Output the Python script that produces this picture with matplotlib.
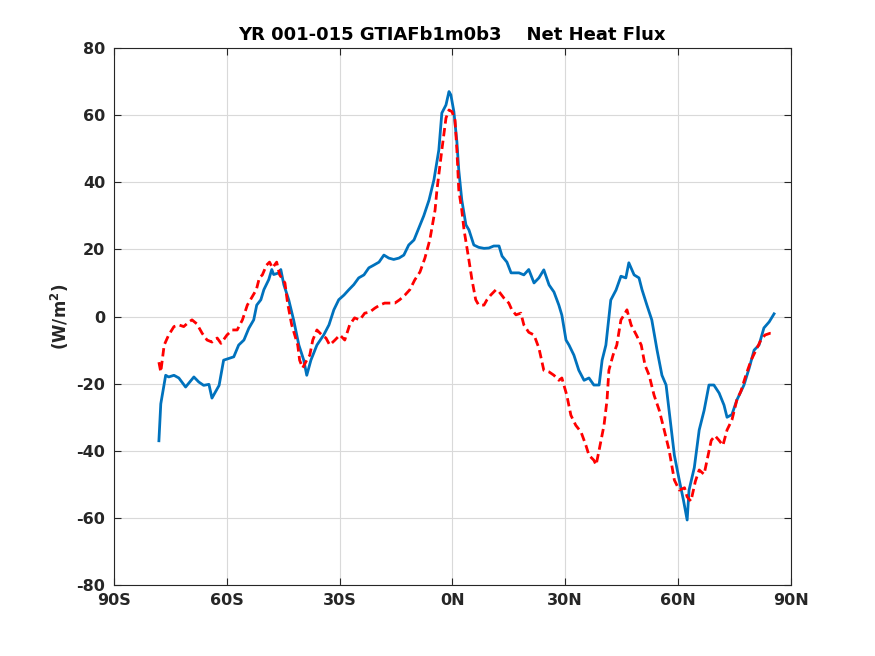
import matplotlib
matplotlib.use('Agg')
import matplotlib.pyplot as plt

# zonal mean net heat flux (W/m^2)
lat_model = [-78.0, -77.5, -76.2, -75.4, -74.0, -72.7, -70.9, -68.7, -67.4, -66.1, -64.7, -63.9,
             -62.0, -60.8, -58.1, -56.8, -55.4, -54.1, -52.8, -52.0, -50.9, -50.1, -48.8, -48.0,
             -47.5, -46.1, -45.6, -44.8, -43.5, -42.2, -40.8, -39.5, -38.7, -37.6, -36.0, -34.2,
             -32.8, -31.5, -30.2, -28.8, -27.5, -26.2, -24.9, -23.5, -22.2, -20.9, -19.5, -18.2,
             -16.9, -15.6, -14.2, -12.9, -11.6, -10.2, -8.9, -7.6, -6.2, -4.9, -3.6, -2.8, -1.7,
             -0.9, -0.4, 0.4, 1.2, 1.7, 2.5, 3.6, 4.4, 5.7, 7.0, 8.4, 9.7, 11.0, 12.4, 13.2, 14.5,
             15.6, 17.7, 19.0, 20.3, 21.7, 23.0, 24.3, 25.7, 27.0, 28.3, 29.1, 30.2, 31.0, 32.3,
             33.6, 35.0, 36.3, 37.6, 39.0, 39.8, 40.8, 42.1, 43.5, 44.8, 46.1, 46.9, 48.3, 49.6,
             50.4, 51.7, 53.0, 54.4, 55.7, 56.8, 57.6, 59.0, 60.3, 61.4, 62.4, 62.9, 64.3, 65.6,
             66.9, 68.2, 69.5, 70.9, 72.2, 73.0, 74.3, 75.6, 77.5, 78.9, 80.2, 81.5, 82.8, 84.2, 85.5]
flux_model = [-37, -26, -17.5, -18, -17.5, -18.3, -21, -18, -19.5, -20.5, -20.2, -24.3,
              -20.5, -13, -12, -8.5, -7, -3.5, -1, 3.4, 5, 8, 11, 14,
              12.5, 13, 14, 9.5, 5, -1, -8.5, -13, -17.5, -13, -8.5, -5.5,
              -2.5, 2, 5, 6.4, 8, 9.5, 11.5, 12.4, 14.5, 15.3, 16.2, 18.3,
              17.4, 17, 17.4, 18.3, 21.3, 22.8, 26.4, 30, 34.7, 40.7, 49.6, 60.6, 63,
              67, 66, 61, 52, 43.6, 34.7, 27.3, 25.8, 21.3, 20.6, 20.3, 20.4, 21, 21, 18, 16.2,
              13, 13, 12.4, 14, 10, 11.5, 13.9, 9.4, 7.3, 3.4, 0.4, -7, -8.5, -11.5,
              -16, -19, -18.3, -20.4, -20.4, -13, -8.5, 4.9, 7.9, 12, 11.5, 16, 12.4, 11.5,
              8, 3.4, -1, -10, -17.5, -20.4, -28, -41.3, -48.7, -54.6, -60.6, -51.7, -45, -33.8,
              -28, -20.4, -20.4, -22.8, -26.4, -30, -29.2, -24.9, -20.4, -15.3, -10, -8.5, -3.4, -1.6, 0.8]

lat_obs = [-78.0, -77.5, -76.6, -75.4, -74.0, -72.7, -71.4, -70.0, -69.2, -67.9, -66.5, -65.2,
           -63.9, -62.5, -61.5, -59.9, -58.5, -57.2, -55.8, -54.5, -53.4, -52.1, -51.3, -50.5,
           -49.4, -48.6, -47.8, -46.7, -45.9, -44.5, -43.8, -42.7, -41.9, -41.1, -40.6, -39.8,
           -38.7, -37.9, -37.1, -36.0, -34.7, -33.6, -32.6, -31.2, -29.9, -28.6, -27.3, -26.0,
           -24.6, -23.3, -22.0, -20.6, -19.3, -18.0, -16.6, -15.3, -14.0, -12.6, -11.3, -10.0,
           -8.6, -7.3, -6.0, -4.6, -4.1, -2.8, -1.7, -0.9, -0.1, 0.7, 1.2, 1.7, 2.5, 3.1, 4.4,
           5.2, 6.2, 7.0, 8.4, 9.2, 10.2, 11.6, 12.4, 13.7, 15.0, 15.8, 16.9, 18.2, 19.0, 20.3,
           21.7, 23.0, 24.3, 25.7, 27.0, 28.3, 29.1, 30.4, 31.5, 32.8, 34.2, 35.5, 36.3, 37.6,
           38.2, 39.0, 40.3, 41.1, 41.6, 42.7, 43.7, 44.8, 45.6, 46.4, 47.5, 48.9, 50.2, 51.2,
           52.3, 53.6, 55.0, 56.3, 57.6, 59.0, 60.3, 61.7, 62.4, 63.4, 64.6, 65.6, 66.9, 67.7,
           68.8, 69.8, 70.9, 71.9, 73.0, 74.3, 75.6, 76.7, 78.0, 79.4, 80.7, 82.0, 83.1, 84.4, 85.5]
flux_obs = [-13.6, -16.5, -8.5, -5.5, -3, -2.5, -3, -1.6, -1, -2.2, -5, -7,
            -7.6, -6.4, -8, -5.5, -4, -4, -1, 3.4, 5.5, 8, 11.5, 12.4,
            15.3, 16.2, 14.5, 16.2, 12.4, 10, 4, -2.5, -5.5, -8.5, -13, -15.3,
            -13, -11.5, -7, -4, -5.5, -6.4, -8.5, -7, -5.5, -7, -2.5, -0.4,
            -1, 1, 1.3, 2.5, 3.4, 4, 4, 4, 5, 6.4, 8, 10.9,
            13.3, 17.4, 22.8, 31.7, 37.7, 49.6, 59.1, 61.5, 61, 58.5, 49.6, 37.7, 31.7, 25.8, 16.8,
            11, 5, 3.4, 3.4, 5, 6.4, 8, 7.4, 5.5, 4, 2, 0.5, 1, -2.5, -4.7,
            -5.5, -9.4, -16, -16.5, -17.5, -19, -18.3, -23.4, -29.4, -32.4, -34.4, -38.4, -41.3, -42.8,
            -44.2, -39.8, -32.4, -24.9, -16, -11.5, -8.5, -1, 0.4, 2, -2.5, -5.5, -8.5, -14.5,
            -17.5, -23.4, -28, -33.8, -39.8, -48.7, -51.7, -51, -53.7, -55, -49, -45.7, -47, -42.8,
            -36.9, -35.5, -36.9, -38.4, -33.8, -30.8, -24.9, -22.2, -17.5, -13, -10, -7, -5.5, -5, -5]

xticks = [-90, -60, -30, 0, 30, 60, 90]
xticklabels = ['90S', '60S', '30S', '0N', '30N', '60N', '90N']
yticks = [-80, -60, -40, -20, 0, 20, 40, 60, 80]

plt.rcParams['font.family'] = 'DejaVu Sans'
plt.rcParams['font.weight'] = 'bold'
plt.rcParams['axes.unicode_minus'] = False

fig = plt.figure(figsize=(8.75, 6.56), dpi=100)
ax = fig.add_axes([0.13, 0.108, 0.774, 0.819])

ax.plot(lat_model, flux_model, color='#0072BD', linewidth=2)
ax.plot(lat_obs, flux_obs, color='red', linewidth=2, linestyle=(0, (3, 1.6)))

ax.set_xlim(-90, 90)
ax.set_ylim(-80, 80)
ax.set_xticks(xticks)
ax.set_xticklabels(xticklabels)
ax.set_yticks(yticks)
ax.grid(True, color='#d9d9d9', linewidth=0.8)
ax.set_axisbelow(True)
ax.tick_params(direction='in', length=5, width=0.8, labelsize=11.5, colors='#262626',
               top=True, right=True, pad=6)
for lab in ax.get_xticklabels() + ax.get_yticklabels():
    lab.set_fontweight('bold')
for s in ax.spines.values():
    s.set_color('#262626')
    s.set_linewidth(0.8)

ax.set_ylabel('(W/m$^\\mathbf{2}$)', fontsize=12, fontweight='bold', color='#262626')
ax.set_title('YR 001-015 GTIAFb1m0b3    Net Heat Flux', fontsize=13, fontweight='bold', pad=6)

fig.savefig('out.png', dpi=100)
